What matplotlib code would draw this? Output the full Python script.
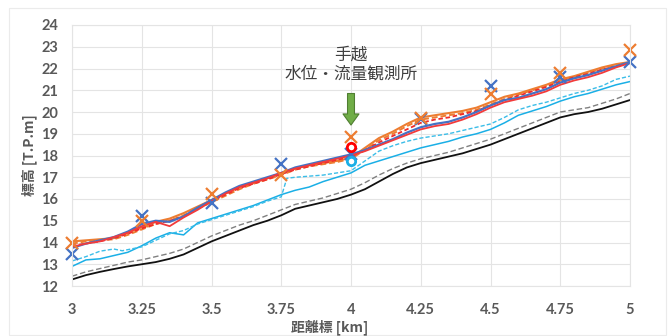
import matplotlib
matplotlib.use("Agg")
import matplotlib.pyplot as plt
from matplotlib.patches import Rectangle

plt.rcParams['font.family'] = ['Lato', 'Noto Sans CJK JP', 'DejaVu Sans']

# Distance markers along the river [km]
km = [3.0, 3.05, 3.1, 3.15, 3.2, 3.25, 3.3, 3.35, 3.4, 3.45, 3.5, 3.55, 3.6, 3.65,
      3.7, 3.75, 3.8, 3.85, 3.9, 3.95, 4.0, 4.05, 4.1, 4.15, 4.2, 4.25, 4.3, 4.35,
      4.4, 4.45, 4.5, 4.55, 4.6, 4.65, 4.7, 4.75, 4.8, 4.85, 4.9, 4.95, 5.0]

# Riverbed (lowest point) and average bed elevation [T.P.m]
bed_low = [12.3, 12.5, 12.65, 12.78, 12.9, 13.0, 13.1, 13.25, 13.45, 13.75, 14.05, 14.3,
           14.55, 14.8, 15.0, 15.25, 15.55, 15.7, 15.85, 16.0, 16.2, 16.45, 16.8, 17.15,
           17.45, 17.65, 17.8, 17.95, 18.1, 18.3, 18.5, 18.75, 19.0, 19.25, 19.5, 19.75,
           19.9, 20.0, 20.15, 20.35, 20.55]
bed_avg = [12.45, 12.65, 12.8, 12.95, 13.1, 13.2, 13.35, 13.5, 13.7, 14.0, 14.3, 14.55,
           14.8, 15.0, 15.25, 15.5, 15.75, 15.9, 16.05, 16.25, 16.45, 16.75, 17.1, 17.4,
           17.65, 17.85, 18.0, 18.15, 18.35, 18.55, 18.75, 19.0, 19.25, 19.5, 19.75, 20.0,
           20.1, 20.2, 20.4, 20.6, 20.85]

# Low-flow water levels
low_calc = [12.9, 13.2, 13.25, 13.4, 13.55, 13.85, 14.2, 14.45, 14.35, 14.9, 15.1, 15.3,
            15.5, 15.7, 15.95, 16.2, 16.4, 16.55, 16.8, 17.0, 17.2, 17.55, 17.75, 17.95,
            18.15, 18.35, 18.5, 18.65, 18.85, 19.0, 19.2, 19.5, 19.85, 20.05, 20.25, 20.5,
            20.7, 20.85, 21.05, 21.25, 21.4]
km_low_obs = [3.0, 3.05, 3.1, 3.15, 3.18, 3.25, 3.3, 3.35, 3.4, 3.45, 3.5, 3.55, 3.6, 3.65,
              3.7, 3.75, 3.77, 3.8, 3.85, 3.9, 3.95, 4.0, 4.05, 4.1, 4.15, 4.2, 4.25, 4.3,
              4.35, 4.4, 4.45, 4.5, 4.55, 4.6, 4.65, 4.7, 4.75, 4.8, 4.85, 4.9, 4.95, 5.0]
low_obs = [13.15, 13.35, 13.6, 13.7, 13.62, 13.8, 14.1, 14.4, 14.55, 14.85, 15.05, 15.25,
           15.45, 15.65, 15.9, 16.1, 16.95, 17.0, 17.05, 17.1, 17.2, 17.3, 17.75, 18.2,
           18.45, 18.65, 18.8, 18.9, 19.0, 19.15, 19.3, 19.45, 19.75, 20.1, 20.3, 20.45,
           20.65, 20.85, 21.0, 21.2, 21.5, 21.65]

# Flood water levels
flood_blue = [13.75, 13.95, 14.1, 14.25, 14.5, 14.85, 15.0, 14.95, 15.2, 15.6, 15.95, 16.3,
              16.6, 16.8, 17.0, 17.2, 17.45, 17.6, 17.75, 17.9, 18.05, 18.25, 18.5, 18.75,
              19.05, 19.3, 19.45, 19.55, 19.75, 20.0, 20.3, 20.55, 20.65, 20.85, 21.05,
              21.35, 21.55, 21.7, 21.9, 22.1, 22.3]
flood_red = [13.8, 13.95, 14.05, 14.25, 14.45, 14.75, 14.95, 14.75, 15.15, 15.5, 15.9,
             16.25, 16.55, 16.75, 16.95, 17.2, 17.4, 17.55, 17.7, 17.85, 18.0, 18.2, 18.45,
             18.7, 18.95, 19.2, 19.35, 19.45, 19.65, 19.9, 20.2, 20.45, 20.6, 20.75, 20.95,
             21.25, 21.45, 21.6, 21.8, 22.05, 22.25]
flood_red_d = [13.85, 13.95, 14.05, 14.2, 14.4, 14.65, 14.85, 15.0, 15.2, 15.55, 15.9,
               16.2, 16.5, 16.7, 16.9, 17.15, 17.35, 17.5, 17.65, 17.8, 17.95, 18.25, 18.6,
               18.9, 19.2, 19.5, 19.65, 19.75, 19.9, 20.05, 20.3, 20.55, 20.75, 20.95,
               21.15, 21.4, 21.6, 21.75, 21.95, 22.1, 22.25]
flood_orange = [14.05, 14.1, 14.15, 14.2, 14.45, 14.7, 14.95, 15.1, 15.35, 15.65, 15.95,
                16.25, 16.55, 16.75, 16.95, 17.15, 17.4, 17.55, 17.65, 17.75, 17.9, 18.35,
                18.8, 19.1, 19.45, 19.75, 19.85, 19.95, 20.05, 20.2, 20.45, 20.7, 20.85,
                21.05, 21.25, 21.5, 21.65, 21.85, 22.05, 22.2, 22.3]
flood_orange_d = [13.95, 14.05, 14.1, 14.15, 14.35, 14.6, 14.85, 15.0, 15.25, 15.55,
                  15.85, 16.15, 16.45, 16.7, 16.9, 17.1, 17.35, 17.5, 17.6, 17.7, 17.85,
                  18.25, 18.7, 19.0, 19.35, 19.65, 19.75, 19.85, 19.95, 20.1, 20.35, 20.6,
                  20.8, 21.0, 21.2, 21.45, 21.6, 21.8, 22.0, 22.15, 22.25]

# Traces of high water
km_marks = [3.0, 3.25, 3.5, 3.75, 4.0, 4.25, 4.5, 4.75, 5.0]
trace_blue = [13.47, 15.22, 15.82, 17.62, 18.05, 19.7, 21.2, 21.6, 22.3]
trace_orange = [14.0, 15.0, 16.25, 17.1, 18.85, 19.72, 20.85, 21.8, 22.85]

# Gauging station observations
km_station = [4.0]
station_red = [18.38]
station_cyan = [17.77]

fig = plt.figure(figsize=(6.68, 3.36), dpi=100)
fig.patches.append(Rectangle((9 / 668, 1 / 336), 657 / 668, 327 / 336, transform=fig.transFigure,
                             fill=False, ec='#EBEBEB', lw=0.8))
ax = fig.add_axes([72 / 668, 1 - 286 / 336, 558 / 668, 261 / 336])

ax.plot(km, bed_low, color='#111111', lw=1.3)
ax.plot(km, bed_avg, color='#808080', lw=1.0, dashes=(4, 2))
ax.plot(km, low_calc, color='#1AAFE6', lw=1.1)
ax.plot(km_low_obs, low_obs, color='#3BBDE8', lw=1.0, dashes=(3, 1.5))
ax.plot(km, flood_orange, color='#ED7D31', lw=1.5)
ax.plot(km, flood_orange_d, color='#ED7D31', lw=1.4, dashes=(3, 1.5))
ax.plot(km, flood_red_d, color='#F02A2A', lw=1.3, dashes=(2.5, 1.5))
ax.plot(km, flood_blue, color='#4472C4', lw=1.6)
ax.plot(km, flood_red, color='#F23B3B', lw=1.3)

ax.plot(km_marks, trace_blue, ls='none', marker='x', ms=9, mew=1.6, color='#4472C4',
        clip_on=False)
ax.plot(km_marks, trace_orange, ls='none', marker='x', ms=9, mew=1.6, color='#ED7D31',
        clip_on=False)
ax.plot(km_station, station_red, ls='none', marker='o', ms=6, mew=2, mfc='white', mec='#FF0000')
ax.plot(km_station, station_cyan, ls='none', marker='o', ms=6, mew=2, mfc='white', mec='#1AAFE6')

# Station arrow and caption
ax.annotate('', xy=(4.0, 19.4), xytext=(4.0, 20.85),
            arrowprops=dict(arrowstyle='simple,head_width=11.5,head_length=8,tail_width=5',
                            mutation_scale=1, fc='#70AD47', ec='#507E32', lw=0.8,
                            shrinkA=0, shrinkB=0))
ax.text(4.0, 22.62, '手越', ha='center', va='center', fontsize=12, color='#404040',
        family=['Noto Sans CJK JP'])
ax.text(4.0, 21.72, '水位・流量観測所', ha='center', va='center', fontsize=12, color='#404040',
        family=['Noto Sans CJK JP'])

ax.set_xlim(3, 5)
ax.set_ylim(12, 24)
ax.set_xticks([3, 3.25, 3.5, 3.75, 4, 4.25, 4.5, 4.75, 5])
ax.set_xticklabels(['3', '3.25', '3.5', '3.75', '4', '4.25', '4.5', '4.75', '5'])
ax.set_yticks(range(12, 25))
ax.grid(True, color='#E4E4E4', lw=0.8)
ax.set_axisbelow(True)
for s in ax.spines.values():
    s.set_color('#E4E4E4')
    s.set_linewidth(0.8)
ax.tick_params(length=0, labelsize=10.5, labelcolor='#595959')
ax.tick_params(axis='y', pad=10)
ax.tick_params(axis='x', pad=12)
for lab in ax.get_xticklabels() + ax.get_yticklabels():
    lab.set_fontweight('bold')

fig.text(330 / 668, 1 - 327 / 336, '距離標 [km]', ha='center', va='center', fontsize=10,
         color='#595959', fontweight='bold', family=['Noto Sans CJK JP'])
fig.text(29 / 668, 1 - 155 / 336, '標高 [T.P.m]', ha='center', va='center', fontsize=10,
         color='#595959', fontweight='bold', rotation=90, family=['Noto Sans CJK JP'])

fig.savefig('out.png', dpi=100)
